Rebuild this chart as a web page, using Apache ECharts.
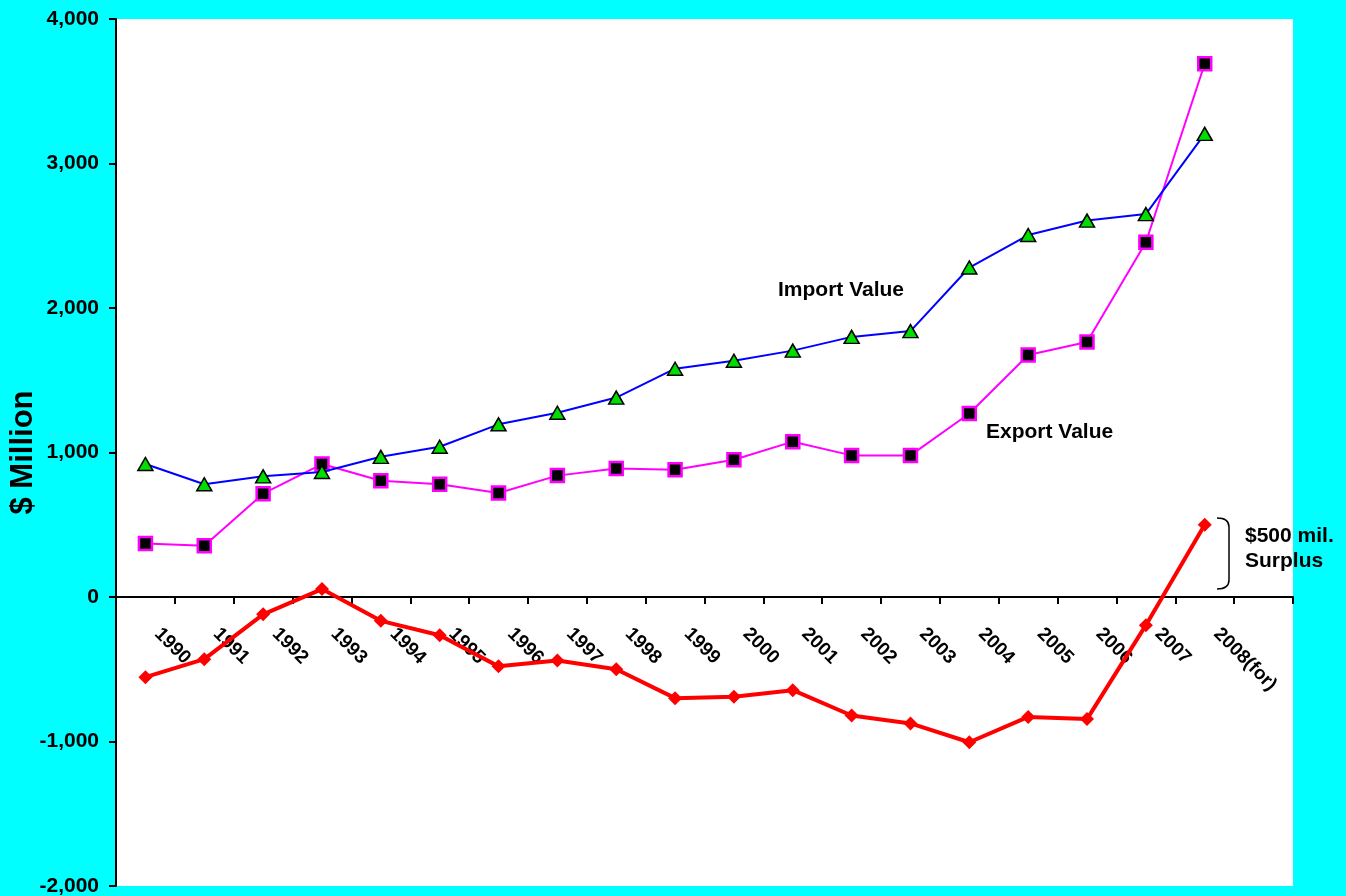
<!DOCTYPE html>
<html>
<head>
<meta charset="utf-8">
<script src="https://cdn.jsdelivr.net/npm/echarts@6/dist/echarts.min.js"></script>
<style>
html,body{margin:0;padding:0;background:#00ffff;}
#c{width:1346px;height:896px;}
</style>
</head>
<body>
<div id="c"></div>
<script>
const categories = ['1990','1991','1992','1993','1994','1995','1996','1997','1998','1999','2000','2001','2002','2003','2004','2005','2006','2007','2008(for)',''];
const importValue = [920,780,835,865,970,1040,1195,1275,1380,1580,1635,1705,1800,1840,2280,2505,2605,2650,3205];
const exportValue = [370,355,715,920,805,780,720,840,890,880,950,1075,980,980,1270,1675,1765,2455,3690];
const tradeBalance = [-555,-430,-120,55,-165,-265,-480,-440,-500,-700,-690,-645,-820,-875,-1005,-830,-845,-195,500];
const yTicks = {min:-2000, max:4000, interval:1000};

const FONT = 'Arial, "Liberation Sans", sans-serif';
const GRID = {left:116, right:53, top:19, bottom:10};
const plotH = 896 - GRID.top - GRID.bottom;
// x axis sits on the zero line: shift it up from the grid bottom by the share of the range below zero
const zeroOffset = -plotH * (0 - yTicks.min) / (yTicks.max - yTicks.min);

const chart = echarts.init(document.getElementById('c'));
chart.setOption({
  backgroundColor:'#00ffff',
  animation:false,
  grid:Object.assign({show:true, backgroundColor:'#ffffff', borderWidth:0,
        containLabel:false, outerBoundsMode:'none'}, GRID),
  xAxis:{
    type:'category',
    data:categories,
    boundaryGap:true,
    position:'bottom',
    offset:zeroOffset,
    axisLine:{onZero:false, lineStyle:{color:'#000', width:2}},
    axisTick:{show:true, length:7, lineStyle:{color:'#000', width:2}, alignWithLabel:false, interval:0},
    axisLabel:{interval:0, rotate:-45, margin:22, padding:[0,0,0,17], color:'#000', fontFamily:FONT, fontSize:19, fontWeight:'bold', hideOverlap:false},
    splitLine:{show:false}
  },
  yAxis:{
    type:'value',
    min:yTicks.min, max:yTicks.max, interval:yTicks.interval,
    name:'$ Million',
    nameLocation:'middle',
    nameGap:77,
    nameMoveOverlap:false,
    nameTextStyle:{fontFamily:FONT, fontSize:31, fontWeight:'bold', color:'#000'},
    axisLine:{show:true, lineStyle:{color:'#000', width:2}},
    axisTick:{show:true, length:7, lineStyle:{color:'#000', width:2}},
    axisLabel:{margin:17, color:'#000', fontFamily:FONT, fontSize:21, fontWeight:'bold',
      formatter:function(v){return (v<0?'-':'')+Math.abs(v).toLocaleString('en-US');}},
    splitLine:{show:false}
  },
  series:[
    {type:'line', name:'Export Value', data:exportValue,
     lineStyle:{color:'#ff00ff', width:2}, symbol:'rect', symbolSize:13,
     itemStyle:{color:'#000000', borderColor:'#ff00ff', borderWidth:2.5}, z:3},
    {type:'line', name:'Import Value', data:importValue,
     lineStyle:{color:'#0000ff', width:2}, symbol:'triangle', symbolSize:[15,13],
     itemStyle:{color:'#00dd00', borderColor:'#000', borderWidth:1.5}, z:4},
    {type:'line', name:'Balance', data:tradeBalance,
     lineStyle:{color:'#ff0000', width:4}, symbol:'diamond', symbolSize:14,
     itemStyle:{color:'#ff0000', borderWidth:0}, z:5}
  ],
  graphic:[
    {type:'text', x:778, y:280, style:{text:'Import Value', font:'bold 21px '+FONT, fill:'#000'}},
    {type:'text', x:986, y:422, style:{text:'Export Value', font:'bold 21px '+FONT, fill:'#000'}},
    {type:'text', x:1245, y:524, style:{text:'$500 mil.\nSurplus', font:'bold 21px '+FONT, fill:'#000', lineHeight:25}},
    {type:'bezierCurve', shape:{x1:1217, y1:518, x2:1229, y2:527, cpx1:1229, cpy1:518}, style:{stroke:'#000', lineWidth:1.5, fill:null}},
    {type:'line', shape:{x1:1229, y1:527, x2:1229, y2:580}, style:{stroke:'#000', lineWidth:1.5}},
    {type:'bezierCurve', shape:{x1:1229, y1:580, x2:1217, y2:589, cpx1:1229, cpy1:589}, style:{stroke:'#000', lineWidth:1.5, fill:null}}
  ]
});
</script>
</body>
</html>
